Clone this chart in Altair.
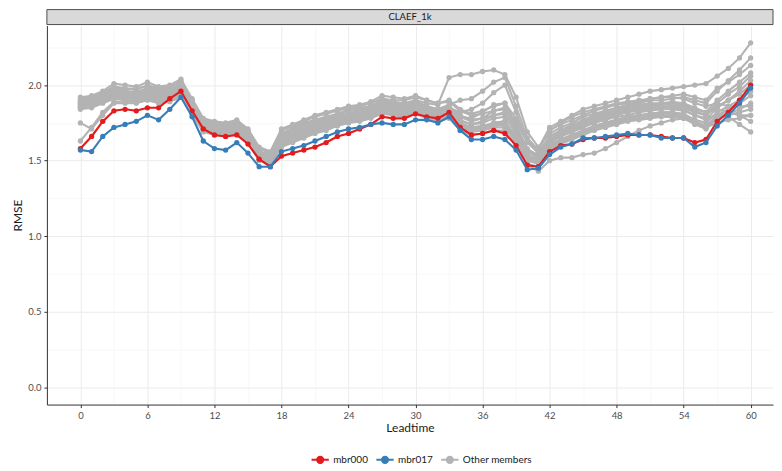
import altair as alt
import pandas as pd

lead = list(range(61))

mbr000 = [1.58, 1.66, 1.76, 1.83, 1.84, 1.83, 1.85, 1.85, 1.91, 1.96,
          1.83, 1.71, 1.67, 1.66, 1.67, 1.61, 1.51, 1.46,
          1.53, 1.55, 1.57, 1.59, 1.62, 1.66, 1.68, 1.71, 1.74, 1.79, 1.78, 1.78, 1.81, 1.79, 1.78, 1.82,
          1.72, 1.67, 1.68, 1.70, 1.68,
          1.60, 1.47, 1.46,
          1.56, 1.60, 1.61, 1.64, 1.65, 1.65, 1.66, 1.67, 1.67, 1.67, 1.66, 1.65, 1.65, 1.62, 1.64,
          1.76, 1.82, 1.90, 2.00]

mbr017 = [1.57, 1.56, 1.66, 1.72, 1.74, 1.76, 1.80, 1.77, 1.84, 1.92,
          1.79, 1.63, 1.58, 1.57, 1.62, 1.55, 1.46, 1.46,
          1.56, 1.58, 1.60, 1.63, 1.66, 1.69, 1.71, 1.72, 1.74, 1.75, 1.74, 1.74, 1.77, 1.77, 1.75, 1.79,
          1.70, 1.64, 1.64, 1.66, 1.64,
          1.57, 1.44, 1.45,
          1.54, 1.59, 1.61, 1.65, 1.65, 1.66, 1.67, 1.68, 1.67, 1.67, 1.65, 1.65, 1.65, 1.59, 1.62,
          1.73, 1.80, 1.88, 1.98]

others = {
    "mbr001": [1.91, 1.92, 1.95, 1.99, 1.98, 1.97, 2.00, 1.98, 1.99, 2.02,
               1.90, 1.77, 1.75, 1.74, 1.76, 1.70, 1.58, 1.55,
               1.70, 1.73, 1.76, 1.79, 1.81, 1.83, 1.85, 1.86, 1.88, 1.91, 1.90, 1.90, 1.92, 1.90, 1.88, 1.89,
               1.83, 1.80, 1.81, 1.83, 1.84,
               1.76, 1.62, 1.58,
               1.72, 1.76, 1.80, 1.84, 1.86, 1.88, 1.90, 1.92, 1.94, 1.96, 1.97, 1.98, 1.99, 2.00, 2.01,
               2.06, 2.11, 2.18, 2.28],
    "mbr002": [1.90, 1.91, 1.94, 1.98, 1.97, 1.98, 1.99, 1.97, 1.98, 2.03,
               1.89, 1.76, 1.74, 1.73, 1.75, 1.69, 1.56, 1.54,
               1.68, 1.72, 1.75, 1.77, 1.79, 1.81, 1.84, 1.85, 1.86, 1.90, 1.89, 1.88, 1.90, 1.88, 1.87, 2.05,
               2.07, 2.07, 2.09, 2.10, 2.07,
               1.92, 1.69, 1.59,
               1.68, 1.72, 1.75, 1.79, 1.81, 1.83, 1.85, 1.87, 1.88, 1.90, 1.90, 1.91, 1.92, 1.90, 1.88,
               1.96, 2.03, 2.10, 2.18],
    "mbr003": [1.89, 1.90, 1.93, 1.96, 1.96, 1.95, 1.98, 1.96, 1.97, 2.00,
               1.88, 1.75, 1.73, 1.72, 1.74, 1.68, 1.56, 1.53,
               1.67, 1.70, 1.73, 1.76, 1.78, 1.80, 1.83, 1.84, 1.85, 1.89, 1.88, 1.87, 1.89, 1.86, 1.84, 1.87,
               1.90, 1.91, 1.96, 2.02, 2.05,
               1.86, 1.65, 1.57,
               1.70, 1.74, 1.77, 1.80, 1.83, 1.85, 1.87, 1.88, 1.89, 1.91, 1.92, 1.93, 1.94, 1.92, 1.90,
               1.98, 2.02, 2.07, 2.13],
    "mbr004": [1.88, 1.89, 1.92, 1.95, 1.95, 1.96, 1.97, 1.95, 1.96, 1.99,
               1.87, 1.74, 1.72, 1.71, 1.73, 1.67, 1.55, 1.52,
               1.66, 1.69, 1.72, 1.75, 1.77, 1.79, 1.81, 1.83, 1.84, 1.88, 1.87, 1.86, 1.88, 1.85, 1.83, 1.85,
               1.82, 1.84, 1.88, 1.95, 2.00,
               1.82, 1.62, 1.55,
               1.66, 1.70, 1.73, 1.76, 1.79, 1.81, 1.83, 1.85, 1.86, 1.87, 1.88, 1.89, 1.88, 1.85, 1.82,
               1.90, 1.96, 2.02, 2.08],
    "mbr005": [1.87, 1.88, 1.91, 1.94, 1.93, 1.93, 1.95, 1.93, 1.94, 1.98,
               1.85, 1.73, 1.71, 1.70, 1.72, 1.66, 1.54, 1.51,
               1.64, 1.67, 1.70, 1.73, 1.75, 1.78, 1.80, 1.81, 1.83, 1.87, 1.86, 1.85, 1.87, 1.84, 1.82, 1.84,
               1.79, 1.78, 1.82, 1.87, 1.88,
               1.74, 1.58, 1.53,
               1.64, 1.68, 1.71, 1.74, 1.77, 1.79, 1.81, 1.83, 1.84, 1.85, 1.86, 1.86, 1.85, 1.82, 1.80,
               1.88, 1.94, 1.99, 2.06],
    "mbr006": [1.86, 1.87, 1.90, 1.93, 1.92, 1.92, 1.94, 1.92, 1.93, 1.96,
               1.84, 1.72, 1.70, 1.69, 1.71, 1.65, 1.53, 1.50,
               1.63, 1.66, 1.69, 1.71, 1.74, 1.76, 1.78, 1.80, 1.82, 1.85, 1.84, 1.84, 1.86, 1.83, 1.81, 1.83,
               1.76, 1.74, 1.76, 1.80, 1.82,
               1.70, 1.56, 1.52,
               1.62, 1.66, 1.69, 1.72, 1.75, 1.77, 1.79, 1.80, 1.82, 1.83, 1.84, 1.84, 1.83, 1.80, 1.77,
               1.85, 1.90, 1.96, 2.03],
    "mbr007": [1.85, 1.86, 1.89, 1.92, 1.91, 1.91, 1.93, 1.91, 1.92, 1.95,
               1.83, 1.71, 1.69, 1.68, 1.70, 1.64, 1.52, 1.49,
               1.62, 1.65, 1.68, 1.70, 1.72, 1.75, 1.77, 1.79, 1.81, 1.84, 1.83, 1.82, 1.84, 1.81, 1.79, 1.81,
               1.74, 1.72, 1.73, 1.75, 1.76,
               1.66, 1.53, 1.50,
               1.61, 1.64, 1.67, 1.70, 1.73, 1.75, 1.77, 1.79, 1.80, 1.81, 1.82, 1.82, 1.81, 1.77, 1.75,
               1.82, 1.86, 1.90, 1.96],
    "mbr008": [1.84, 1.85, 1.88, 1.91, 1.90, 1.90, 1.92, 1.90, 1.91, 1.94,
               1.82, 1.70, 1.68, 1.67, 1.69, 1.63, 1.51, 1.48,
               1.60, 1.63, 1.66, 1.69, 1.71, 1.74, 1.76, 1.77, 1.79, 1.82, 1.81, 1.80, 1.82, 1.79, 1.77, 1.79,
               1.72, 1.69, 1.70, 1.72, 1.72,
               1.63, 1.50, 1.48,
               1.59, 1.62, 1.65, 1.68, 1.71, 1.73, 1.75, 1.77, 1.78, 1.79, 1.80, 1.80, 1.79, 1.75, 1.72,
               1.80, 1.84, 1.88, 1.93],
    "mbr009": [1.63, 1.72, 1.82, 1.89, 1.89, 1.89, 1.91, 1.89, 1.90, 1.93,
               1.80, 1.69, 1.67, 1.66, 1.68, 1.62, 1.50, 1.48,
               1.59, 1.62, 1.65, 1.68, 1.70, 1.73, 1.75, 1.76, 1.78, 1.81, 1.80, 1.79, 1.81, 1.78, 1.76, 1.78,
               1.70, 1.67, 1.68, 1.70, 1.70,
               1.61, 1.48, 1.46,
               1.58, 1.61, 1.64, 1.67, 1.70, 1.72, 1.74, 1.76, 1.77, 1.78, 1.79, 1.79, 1.78, 1.74, 1.71,
               1.78, 1.81, 1.84, 1.88],
    "mbr010": [1.75, 1.71, 1.80, 1.88, 1.88, 1.88, 1.90, 1.88, 1.89, 1.92,
               1.81, 1.70, 1.68, 1.67, 1.69, 1.63, 1.51, 1.49,
               1.61, 1.64, 1.67, 1.70, 1.72, 1.75, 1.77, 1.78, 1.80, 1.83, 1.82, 1.81, 1.83, 1.80, 1.78, 1.80,
               1.73, 1.70, 1.71, 1.73, 1.74,
               1.64, 1.51, 1.49,
               1.60, 1.63, 1.66, 1.69, 1.72, 1.74, 1.76, 1.78, 1.79, 1.80, 1.81, 1.81, 1.80, 1.76, 1.73,
               1.78, 1.80, 1.82, 1.84],
    "mbr011": [1.86, 1.88, 1.90, 1.93, 1.93, 1.92, 1.94, 1.92, 1.94, 1.97,
               1.84, 1.72, 1.70, 1.69, 1.71, 1.65, 1.53, 1.51,
               1.63, 1.67, 1.70, 1.72, 1.74, 1.77, 1.79, 1.80, 1.82, 1.86, 1.85, 1.84, 1.86, 1.82, 1.80, 1.82,
               1.75, 1.72, 1.72, 1.74, 1.75,
               1.62, 1.47, 1.43,
               1.50, 1.52, 1.52, 1.54, 1.55, 1.58, 1.62, 1.66, 1.70, 1.73, 1.75, 1.77, 1.78, 1.75, 1.72,
               1.75, 1.77, 1.78, 1.80],
    "mbr012": [1.87, 1.89, 1.92, 1.95, 1.94, 1.94, 1.96, 1.94, 1.95, 1.98,
               1.86, 1.74, 1.72, 1.70, 1.73, 1.67, 1.55, 1.52,
               1.65, 1.68, 1.71, 1.74, 1.76, 1.78, 1.80, 1.82, 1.84, 1.87, 1.86, 1.85, 1.87, 1.84, 1.82, 1.84,
               1.77, 1.74, 1.75, 1.78, 1.79,
               1.68, 1.54, 1.51,
               1.63, 1.67, 1.70, 1.73, 1.76, 1.78, 1.80, 1.82, 1.83, 1.84, 1.85, 1.85, 1.84, 1.80, 1.78,
               1.80, 1.79, 1.74, 1.69],
    "mbr013": [1.89, 1.90, 1.93, 1.97, 1.96, 1.95, 1.98, 1.96, 1.97, 2.01,
               1.88, 1.75, 1.73, 1.72, 1.74, 1.68, 1.56, 1.53,
               1.67, 1.71, 1.74, 1.77, 1.78, 1.80, 1.83, 1.83, 1.86, 1.89, 1.88, 1.87, 1.89, 1.86, 1.84, 1.86,
               1.80, 1.77, 1.78, 1.80, 1.81,
               1.71, 1.57, 1.54,
               1.66, 1.70, 1.74, 1.77, 1.80, 1.82, 1.84, 1.86, 1.87, 1.88, 1.88, 1.88, 1.87, 1.84, 1.82,
               1.84, 1.82, 1.80, 1.76],
    "mbr014": [1.88, 1.89, 1.92, 1.96, 1.95, 1.94, 1.96, 1.95, 1.96, 1.99,
               1.86, 1.73, 1.71, 1.70, 1.72, 1.66, 1.54, 1.52,
               1.65, 1.69, 1.72, 1.74, 1.76, 1.79, 1.81, 1.82, 1.84, 1.88, 1.87, 1.86, 1.88, 1.85, 1.83, 1.86,
               1.79, 1.76, 1.78, 1.83, 1.85,
               1.72, 1.56, 1.52,
               1.64, 1.69, 1.72, 1.75, 1.78, 1.80, 1.82, 1.84, 1.85, 1.86, 1.87, 1.87, 1.86, 1.83, 1.80,
               1.86, 1.90, 1.94, 2.00],
    "mbr015": [1.85, 1.87, 1.89, 1.92, 1.92, 1.91, 1.93, 1.91, 1.93, 1.96,
               1.83, 1.71, 1.69, 1.68, 1.70, 1.64, 1.52, 1.50,
               1.62, 1.65, 1.68, 1.71, 1.73, 1.76, 1.78, 1.79, 1.81, 1.85, 1.84, 1.83, 1.85, 1.82, 1.80, 1.82,
               1.74, 1.71, 1.72, 1.75, 1.76,
               1.65, 1.52, 1.49,
               1.60, 1.64, 1.67, 1.70, 1.73, 1.75, 1.77, 1.79, 1.80, 1.81, 1.82, 1.82, 1.80, 1.76, 1.73,
               1.80, 1.82, 1.80, 1.80],
    "mbr016": [1.92, 1.93, 1.96, 2.01, 2.00, 1.99, 2.02, 1.99, 2.00, 2.04,
               1.91, 1.78, 1.76, 1.75, 1.77, 1.71, 1.59, 1.56,
               1.71, 1.74, 1.77, 1.80, 1.82, 1.84, 1.86, 1.87, 1.89, 1.93, 1.92, 1.91, 1.93, 1.90, 1.88, 1.90,
               1.84, 1.81, 1.83, 1.86, 1.88,
               1.78, 1.63, 1.57,
               1.70, 1.75, 1.79, 1.82, 1.84, 1.86, 1.88, 1.89, 1.90, 1.91, 1.92, 1.92, 1.91, 1.88, 1.86,
               1.88, 1.86, 1.86, 1.86],
}

panel_title = "CLAEF_1k"
groups = ["mbr000", "mbr017", "Other members"]
group_colors = ["#E41A1C", "#377EB8", "#B3B3B3"]
x_ticks = list(range(0, 61, 3))
y_ticks = [0.0, 0.25, 0.5, 0.75, 1.0, 1.25, 1.5, 1.75, 2.0, 2.25]

rows = []
for name, vals in others.items():
    for h, v in zip(lead, vals):
        rows.append({"lead": h, "rmse": v, "member": name, "group": "Other members"})
for h, v in zip(lead, mbr000):
    rows.append({"lead": h, "rmse": v, "member": "mbr000", "group": "mbr000"})
for h, v in zip(lead, mbr017):
    rows.append({"lead": h, "rmse": v, "member": "mbr017", "group": "mbr017"})
df = pd.DataFrame(rows)

PW = 728
PH = 380
SH = 15
FONT = "Lato"

color = alt.Color(
    "group:N",
    scale=alt.Scale(domain=groups, range=group_colors),
    legend=alt.Legend(
        title=None, orient="none", direction="horizontal", columns=3,
        legendX=264, legendY=441,
        symbolType="M-1,0L1,0M-0.36,0A0.36,0.36 0 1,0 0.36,0A0.36,0.36 0 1,0 -0.36,0",
        symbolSize=300, symbolStrokeWidth=2, labelFont=FONT, labelFontSize=10,
        labelColor="#1A1A1A", columnPadding=4, labelOffset=3,
    ),
)

x = alt.X(
    "lead:Q",
    scale=alt.Scale(domain=[-3, 62.0], nice=False, zero=False),
    axis=alt.Axis(
        values=x_ticks, title="Leadtime",
        labelExpr="datum.value % 6 === 0 ? datum.label : ''",
        tickOpacity={"condition": {"test": "datum.value % 6 === 0", "value": 1}, "value": 0},
        gridColor={"condition": {"test": "datum.value % 6 === 0", "value": "#EBEBEB"}, "value": "#F4F4F4"},
        gridWidth={"condition": {"test": "datum.value % 6 === 0", "value": 1}, "value": 0.6},
        labelFont=FONT, labelFontSize=9.5, labelColor="#4D4D4D", labelPadding=3,
        tickColor="#333333", tickSize=3, domainColor="#333333",
        titleFont=FONT, titleFontSize=12, titleColor="#1A1A1A", titleFontWeight="normal",
        titlePadding=3,
    ),
)
y = alt.Y(
    "rmse:Q",
    scale=alt.Scale(domain=[-0.114, 2.394], nice=False, zero=False),
    axis=alt.Axis(
        values=y_ticks, title="RMSE", format=".1f",
        labelExpr="datum.value % 0.5 === 0 && datum.value <= 2 ? datum.label : ''",
        tickOpacity={"condition": {"test": "datum.value % 0.5 === 0 && datum.value <= 2", "value": 1}, "value": 0},
        gridColor={"condition": {"test": "datum.value % 0.5 === 0", "value": "#EBEBEB"}, "value": "#F4F4F4"},
        gridWidth={"condition": {"test": "datum.value % 0.5 === 0", "value": 1}, "value": 0.6},
        labelFont=FONT, labelFontSize=9.5, labelColor="#4D4D4D", labelPadding=3,
        tickColor="#333333", tickSize=3, domainColor="#333333",
        titleFont=FONT, titleFontSize=12, titleColor="#1A1A1A", titleFontWeight="normal",
        titlePadding=3,
    ),
)

def layer_for(g):
    return alt.Chart(df).transform_filter(alt.datum.group == g).mark_line(
        strokeWidth=2.1, point=alt.OverlayMarkDef(filled=True, size=28)
    ).encode(x=x, y=y, color=color, detail="member:N")

main = alt.layer(
    layer_for("Other members"), layer_for("mbr000"), layer_for("mbr017")
).properties(width=PW, height=PH)

strip_df = pd.DataFrame({"panel": [panel_title]})
strip_rect = alt.Chart(strip_df).mark_rect(
    fill="#D9D9D9", stroke="#4D4D4D", strokeWidth=1
).encode(x=alt.value(0), x2=alt.value(PW), y=alt.value(0), y2=alt.value(SH))
strip_text = alt.Chart(strip_df).mark_text(
    font=FONT, fontSize=9.5, color="#1A1A1A", baseline="middle", align="center"
).encode(x=alt.value(PW / 2), y=alt.value(SH / 2), text="panel:N")
strip = alt.layer(strip_rect, strip_text).properties(width=PW, height=SH)

chart = alt.vconcat(strip, main, spacing=0).properties(
    padding={"left": 3, "top": 0, "right": 0, "bottom": 0},
).configure_view(strokeOpacity=0).configure_concat(spacing=0)

chart.save("out.html", embed_options={"renderer": "svg", "actions": False})
